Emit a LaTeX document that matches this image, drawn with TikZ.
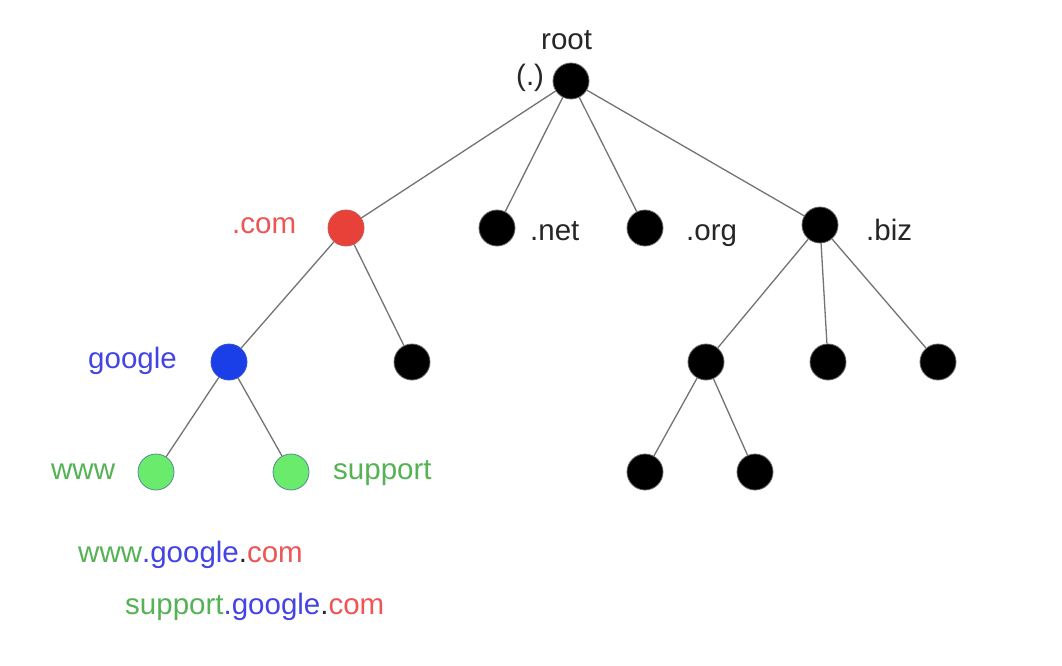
\documentclass[tikz,border=0pt]{standalone}
\usepackage{fontspec}
\setmainfont{Liberation Sans}
\begin{document}
\begin{tikzpicture}[x=1pt,y=-1pt,
  dot/.style={circle,minimum size=36pt,inner sep=0pt,draw=black!60,line width=0.8pt,fill=black},
  reddot/.style={dot,fill=nred,draw=nred!70!gray},
  bluedot/.style={dot,fill=nblue,draw=nblue!70!gray},
  greendot/.style={dot,fill=ngreen,draw=ngreen!60!blue!70!gray},
  edge/.style={draw=black!55,line width=1.3pt},
  lbl/.style={font=\fontsize{29.5}{32}\selectfont,inner sep=0pt,text=black!85,anchor=base west}
]
\definecolor{nred}{HTML}{E8413A}
\definecolor{nblue}{HTML}{1A3FE8}
\definecolor{ngreen}{HTML}{6BEB6B}
\definecolor{tred}{HTML}{EE5555}
\definecolor{tblue}{HTML}{4444E6}
\definecolor{tgreen}{HTML}{55B255}
\useasboundingbox[fill=white] (0,0) rectangle (1062,666);
\node[dot] (root) at (571,81) {};
\node[reddot] (com) at (346,228) {};
\node[dot] (net) at (497,228) {};
\node[dot] (org) at (645,228) {};
\node[dot] (biz) at (820,225) {};
\node[bluedot] (google) at (229,362) {};
\node[dot] (comb) at (412,362) {};
\node[dot] (biza) at (706,362) {};
\node[dot] (bizb) at (828,362) {};
\node[dot] (bizc) at (938,362) {};
\node[greendot] (www) at (156,472) {};
\node[greendot] (support) at (291,472) {};
\node[dot] (biza1) at (645,472) {};
\node[dot] (biza2) at (755,472) {};
\foreach \a/\b in {root/com,root/net,root/org,root/biz,com/google,com/comb,biz/biza,biz/bizb,biz/bizc,google/www,google/support,biza/biza1,biza/biza2}
  \path[edge] (\a) -- (\b);
\node[lbl] (lroot) at (541,50) {root};
\node[lbl] (ldot) at (516,86) {(.)};
\node[lbl,text=tred] (lcom) at (232,233) {.com};
\node[lbl] (lnet) at (530,240) {.net};
\node[lbl] (lorg) at (686,240) {.org};
\node[lbl] (lbiz) at (866,240) {.biz};
\node[lbl,text=tblue] (lgoogle) at (88,368) {google};
\node[lbl,text=tgreen] (lwww) at (51,479) {www};
\node[lbl,text=tgreen] (lsupport) at (333,479) {support};
\node[lbl] (f1) at (78,562) {\textcolor{tgreen}{www}\textcolor{tblue}{.google}.\textcolor{tred}{com}};
\node[lbl] (f2) at (125,614) {\textcolor{tgreen}{support}\textcolor{tblue}{.google}.\textcolor{tred}{com}};
\end{tikzpicture}
\end{document}
